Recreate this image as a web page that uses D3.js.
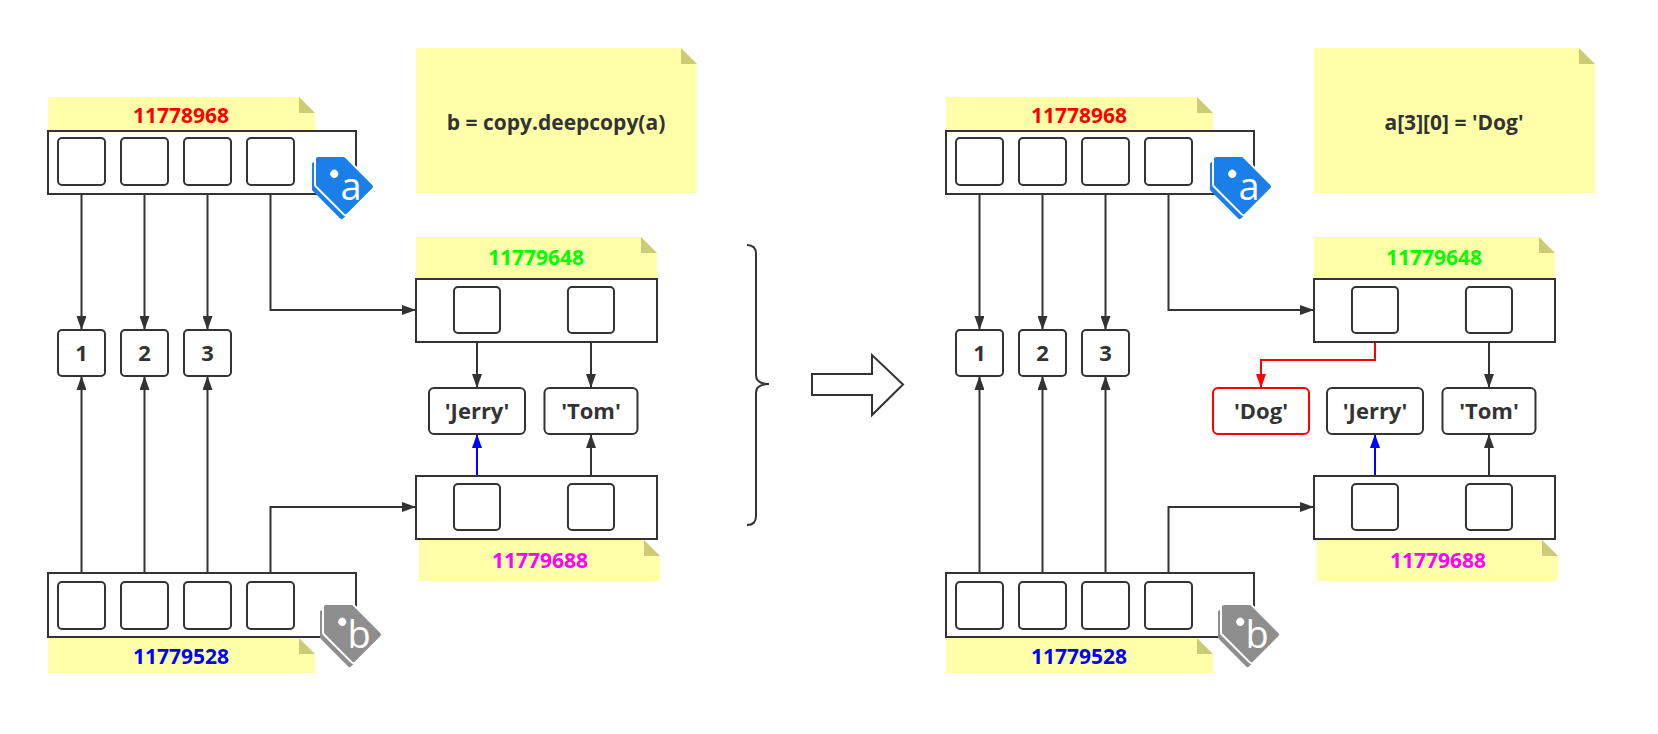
<!DOCTYPE html>
<html>
<head>
<meta charset="utf-8">
<script src="https://cdn.jsdelivr.net/npm/d3@7"></script>
<style>
  html, body { margin: 0; padding: 0; background: #fff; }
  svg { display: block; }
  text { font-family: "Open Sans", "Noto Sans", sans-serif; font-weight: bold; fill: #333; }
</style>
</head>
<body>
<div id="container"></div>
<script>
// ---- data ----
var codeLines = ["b = copy.deepcopy(a)", "a[3][0] = 'Dog'"];
var outerAddrs = ["11778968", "11779528"];      // a, b
var innerAddrs = ["11779648", "11779688"];      // a[3], b[3]
var numbers = ["1", "2", "3"];
var strings = ["'Jerry'", "'Tom'"];
var newString = "'Dog'";
var tagLetters = ["a", "b"];

// ---- style ----
var INK = "#333", NOTE = "#ffffaa", FOLD = "#cccc77";
var addrColors = { "11778968": "#ff0000", "11779528": "#0000ff", "11779648": "#00ff00", "11779688": "#ff00ff" };

width = 1658;
height = 734;

var svg = d3.select("#container").append("svg")
    .attr("width", width)
    .attr("height", height);

var defs = svg.append("defs");
[["arrow-ink", INK], ["arrow-red", "#ff0000"], ["arrow-blue", "#0000ff"]].forEach(function (m) {
    defs.append("marker")
        .attr("id", m[0])
        .attr("markerUnits", "userSpaceOnUse")
        .attr("viewBox", "0 -5 14 10")
        .attr("refX", 14).attr("refY", 0)
        .attr("markerWidth", 14).attr("markerHeight", 10)
        .attr("orient", "auto")
        .append("path")
        .attr("d", "M0,-5L14,0L0,5Z")
        .attr("fill", m[1]);
});

// columns of the 4-slot lists and of the 2-slot inner lists
var xOuter = d3.scaleBand().domain(d3.range(4)).range([58, 294]).paddingInner(0.254);
var xInner = d3.scaleBand().domain([-1, 0, 1]).range([340, 614]).paddingInner(0.596);

// rows
var Y = {
    codeTop: 48, codeH: 145,
    aNote: 97, aBox: 131, aBoxH: 63, aCell: 138,
    inNote: 237, inBox: 279, inCell: 287, aTurn: 310,
    num: 330, numH: 46,
    redTurn: 360,
    str: 388, strH: 46,
    cpBox: 476, cpCell: 484, cpNote: 539, bTurn: 507,
    bBox: 573, bBoxH: 64, bCell: 582, bNote: 637
};
var cellH = 47;

function note(g, x, y, w, h, fold) {
    g.append("path")
        .attr("d", `M${x},${y}H${x + w - fold}L${x + w},${y + fold}V${y + h}H${x}Z`)
        .attr("fill", NOTE);
    g.append("path")
        .attr("d", `M${x + w - fold},${y}V${y + fold}H${x + w}Z`)
        .attr("fill", FOLD);
}

function box(g, x, y, w, h, rx, stroke) {
    return g.append("rect")
        .attr("x", x).attr("y", y).attr("width", w).attr("height", h)
        .attr("rx", rx).attr("fill", "#fff")
        .attr("stroke", stroke || INK).attr("stroke-width", 2);
}

function label(g, x, y, txt, color, size) {
    return g.append("text")
        .attr("x", x).attr("y", y)
        .attr("text-anchor", "middle")
        .attr("dy", "0.36em")
        .style("font-size", (size || 21) + "px")
        .style("fill", color || INK)
        .text(txt);
}

function link(g, pts, color, marker) {
    g.append("path")
        .attr("d", d3.line()(pts))
        .attr("fill", "none")
        .attr("stroke", color || INK)
        .attr("stroke-width", 2)
        .attr("marker-end", "url(#" + (marker || "arrow-ink") + ")");
}

// double tag icon, tip at (tx, ty), body running down-right
function tag(g, tx, ty, color, letter) {
    var shape = "M0,0L18,-18L57,-18L57,18L18,18Z";
    var t = g.append("g");
    t.append("path")
        .attr("d", shape)
        .attr("transform", `translate(${tx - 4},${ty + 5}) rotate(45)`)
        .attr("fill", color).attr("stroke", color).attr("stroke-width", 4).attr("stroke-linejoin", "round");
    var front = t.append("g")
        .attr("transform", `translate(${tx},${ty}) rotate(45)`);
    front.append("path")
        .attr("d", shape)
        .attr("fill", "#fff").attr("stroke", "#fff").attr("stroke-width", 8).attr("stroke-linejoin", "round");
    front.append("path")
        .attr("d", shape)
        .attr("fill", color).attr("stroke", color).attr("stroke-width", 4).attr("stroke-linejoin", "round");
    front.append("circle").attr("cx", 22).attr("cy", -1).attr("r", 4).attr("fill", "#fff");
    t.append("text")
        .attr("x", tx + 33).attr("y", ty + 27)
        .attr("text-anchor", "middle").attr("dy", "0.36em")
        .style("font-size", "38px").style("font-weight", "normal").style("fill", "#fff")
        .text(letter);
}

function drawPanel(dx, code, changed) {
    var g = svg.append("g").attr("transform", `translate(${dx},0)`);
    var bw = xOuter.bandwidth(), iw = xInner.bandwidth();
    var cxO = i => xOuter(i) + bw / 2, cxI = i => xInner(i) + iw / 2;

    // code note
    note(g, 416, Y.codeTop, 281, Y.codeH, 16);
    label(g, 556, Y.codeTop + 74, code, INK, 21);

    // links under the boxes
    d3.range(3).forEach(function (i) {
        link(g, [[cxO(i), Y.aCell + cellH], [cxO(i), Y.num]]);
        link(g, [[cxO(i), Y.bCell], [cxO(i), Y.num + Y.numH]]);
    });
    link(g, [[cxO(3), Y.aCell + cellH], [cxO(3), Y.aTurn], [416, Y.aTurn]]);
    link(g, [[cxO(3), Y.bCell], [cxO(3), Y.bTurn], [416, Y.bTurn]]);

    if (changed) {
        link(g, [[cxI(0), Y.inCell + cellH - 1], [cxI(0), Y.redTurn], [cxI(-1), Y.redTurn], [cxI(-1), Y.str]], "#ff0000", "arrow-red");
    } else {
        link(g, [[cxI(0), Y.inCell + cellH - 1], [cxI(0), Y.str]]);
    }
    link(g, [[cxI(1), Y.inCell + cellH - 1], [cxI(1), Y.str]]);
    link(g, [[cxI(0), Y.cpCell], [cxI(0), Y.str + Y.strH]], "#0000ff", "arrow-blue");
    link(g, [[cxI(1), Y.cpCell], [cxI(1), Y.str + Y.strH]]);

    // list a
    note(g, 48, Y.aNote, 267, Y.aBox - Y.aNote, 16);
    label(g, 181, Y.aNote + 18, outerAddrs[0], addrColors[outerAddrs[0]]);
    g.append("rect").attr("x", 48).attr("y", Y.aBox).attr("width", 308).attr("height", Y.aBoxH)
        .attr("fill", "#fff").attr("stroke", INK).attr("stroke-width", 2);
    d3.range(4).forEach(i => box(g, xOuter(i), Y.aCell, bw, cellH, 4));

    // list b
    g.append("rect").attr("x", 48).attr("y", Y.bBox).attr("width", 308).attr("height", Y.bBoxH)
        .attr("fill", "#fff").attr("stroke", INK).attr("stroke-width", 2);
    note(g, 48, Y.bNote + 1, 267, 35, 16);
    label(g, 181, Y.bNote + 19, outerAddrs[1], addrColors[outerAddrs[1]]);
    d3.range(4).forEach(i => box(g, xOuter(i), Y.bCell, bw, cellH, 4));

    // shared ints
    numbers.forEach(function (n, i) {
        box(g, xOuter(i), Y.num, bw, Y.numH, 4);
        label(g, cxO(i), Y.num + Y.numH / 2, n, INK, 22);
    });

    // inner list of a
    note(g, 416, Y.inNote, 241, Y.inBox - Y.inNote, 16);
    label(g, 536, Y.inNote + 20, innerAddrs[0], addrColors[innerAddrs[0]]);
    g.append("rect").attr("x", 416).attr("y", Y.inBox).attr("width", 241).attr("height", 63)
        .attr("fill", "#fff").attr("stroke", INK).attr("stroke-width", 2);
    [0, 1].forEach(i => box(g, xInner(i), Y.inCell, iw, 46, 4));

    // inner list of b
    g.append("rect").attr("x", 416).attr("y", Y.cpBox).attr("width", 241).attr("height", 63)
        .attr("fill", "#fff").attr("stroke", INK).attr("stroke-width", 2);
    note(g, 419, Y.cpNote + 1, 241, 41, 16);
    label(g, 540, Y.cpNote + 21, innerAddrs[1], addrColors[innerAddrs[1]]);
    [0, 1].forEach(i => box(g, xInner(i), Y.cpCell, iw, 46, 4));

    // strings
    var strW = [96, 93];
    strings.forEach(function (s, i) {
        box(g, cxI(i) - strW[i] / 2, Y.str, strW[i], Y.strH, 5);
        label(g, cxI(i), Y.str + Y.strH / 2, s, INK, 22);
    });
    if (changed) {
        box(g, cxI(-1) - 48, Y.str, 96, Y.strH, 5, "#ff0000");
        label(g, cxI(-1), Y.str + Y.strH / 2, newString, INK, 22);
    }

    tag(g, 318, 159, "#1a7fe8", tagLetters[0]);
    tag(g, 326, 607, "#8e8e8e", tagLetters[1]);
}

drawPanel(0, codeLines[0], false);
drawPanel(898, codeLines[1], true);

// brace and "becomes" arrow between the two states
svg.append("path")
    .attr("d", "M747,245Q756,245 756,254V375Q756,384 769,384Q756,384 756,393V516Q756,525 747,525")
    .attr("fill", "none").attr("stroke", INK).attr("stroke-width", 2);
svg.append("path")
    .attr("d", "M812,374H872V355L903,384.5L872,415V395H812Z")
    .attr("fill", "#fff").attr("stroke", INK).attr("stroke-width", 2).attr("stroke-linejoin", "miter");
</script>
</body>
</html>
